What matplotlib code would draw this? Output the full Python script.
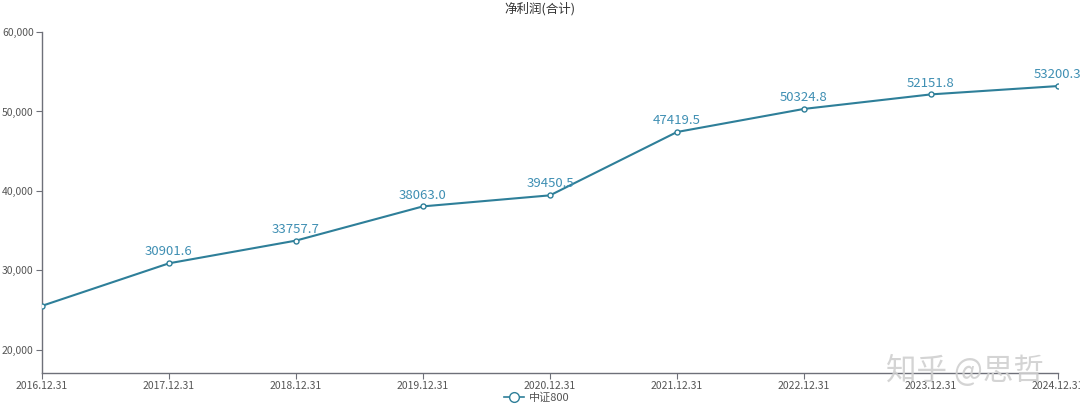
import matplotlib.pyplot as plt
import matplotlib.ticker as mticker

plt.rcParams['font.family'] = ['Noto Sans CJK SC', 'DejaVu Sans']

dates = ['2016.12.31', '2017.12.31', '2018.12.31', '2019.12.31', '2020.12.31',
         '2021.12.31', '2022.12.31', '2023.12.31', '2024.12.31']
profit = [25550.0, 30901.6, 33757.7, 38063.0, 39450.5, 47419.5, 50324.8, 52151.8, 53200.3]
show_label = [False, True, True, True, True, True, True, True, True]
yticks = [20000, 30000, 40000, 50000, 60000]

line_color = '#2e7f99'
label_color = '#3f8fb3'
axis_color = '#6e7079'

fig = plt.figure(figsize=(10.8, 4.08), dpi=100)
ax = fig.add_axes([42 / 1080, 1 - 373 / 408, (1058 - 42) / 1080, (373 - 32) / 408])

x = list(range(len(dates)))
ax.plot(x, profit, color=line_color, lw=1.5, marker='o', ms=3.6,
        mfc='white', mec=line_color, mew=1.0, zorder=3)

for xi, v, s in zip(x, profit, show_label):
    if s:
        ax.annotate(f'{v:.1f}', (xi, v), xytext=(0, 3.5), textcoords='offset points',
                    ha='center', va='bottom', color=label_color, fontsize=9.5,
                    annotation_clip=False)

ax.set_xlim(0, len(dates) - 1)
ax.set_ylim(17100, 60000)
ax.set_xticks(x)
ax.set_xticklabels(dates)
ax.set_yticks(yticks)
ax.yaxis.set_major_formatter(mticker.FuncFormatter(lambda v, p: f'{int(v):,}'))

for side in ['top', 'right']:
    ax.spines[side].set_visible(False)
for side in ['left', 'bottom']:
    ax.spines[side].set_color(axis_color)
    ax.spines[side].set_linewidth(1.0)
ax.tick_params(axis='both', colors=axis_color, labelcolor='#555555', labelsize=7.5,
               length=4, width=0.8, pad=2)

fig.text(0.5, 1 - 9 / 408, '净利润(合计)', ha='center', va='center', fontsize=9, color='#333333')

# legend at bottom
ax.plot([], [], color=line_color, lw=1.2, marker='o', ms=7, mfc='white',
        mec=line_color, label='中证800')
leg = fig.legend(loc='center', bbox_to_anchor=(0.497, 1 - 398 / 408), frameon=False,
                 fontsize=8, handlelength=1.8, handletextpad=0.4)
for t in leg.get_texts():
    t.set_color('#555555')

# watermark
fig.text(965 / 1080, 1 - 371 / 408, '知乎 @思哲', ha='center', va='center',
         fontsize=22, color='#d0d0d0', alpha=0.9)

fig.savefig('out.png', dpi=100)
